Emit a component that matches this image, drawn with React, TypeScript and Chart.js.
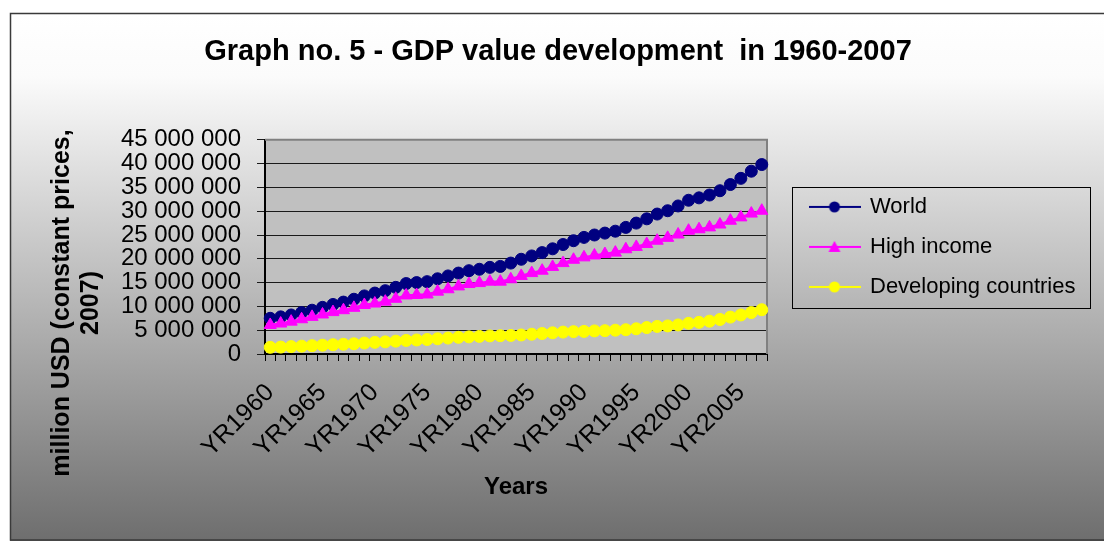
import React, { useEffect, useRef } from 'react';
import Chart from 'chart.js/auto';

const years = [
  'YR1960','YR1961','YR1962','YR1963','YR1964','YR1965','YR1966','YR1967','YR1968','YR1969',
  'YR1970','YR1971','YR1972','YR1973','YR1974','YR1975','YR1976','YR1977','YR1978','YR1979',
  'YR1980','YR1981','YR1982','YR1983','YR1984','YR1985','YR1986','YR1987','YR1988','YR1989',
  'YR1990','YR1991','YR1992','YR1993','YR1994','YR1995','YR1996','YR1997','YR1998','YR1999',
  'YR2000','YR2001','YR2002','YR2003','YR2004','YR2005','YR2006','YR2007',
];

const world = [
  7500000, 7800000, 8200000, 8700000, 9200000, 9800000, 10400000, 10900000, 11500000, 12200000,
  12800000, 13300000, 14000000, 14800000, 15000000, 15200000, 15800000, 16400000, 17000000, 17500000,
  17800000, 18200000, 18400000, 19100000, 19900000, 20600000, 21300000, 22100000, 23000000, 23800000,
  24500000, 25000000, 25400000, 25800000, 26600000, 27500000, 28400000, 29400000, 30100000, 31100000,
  32300000, 32800000, 33400000, 34300000, 35600000, 36900000, 38400000, 39800000,
];

const highIncome = [
  6100000, 6400000, 6800000, 7300000, 7800000, 8300000, 8800000, 9200000, 9700000, 10300000,
  10600000, 11000000, 11600000, 12300000, 12400000, 12500000, 13100000, 13600000, 14200000, 14700000,
  14900000, 15200000, 15200000, 15700000, 16400000, 17000000, 17500000, 18300000, 19100000, 19800000,
  20300000, 20700000, 21000000, 21300000, 22000000, 22500000, 23100000, 23800000, 24400000, 25100000,
  25900000, 26200000, 26600000, 27200000, 28000000, 28700000, 29500000, 30100000,
];

const developing = [
  1400000, 1450000, 1550000, 1650000, 1750000, 1850000, 1950000, 2050000, 2150000, 2300000,
  2450000, 2550000, 2700000, 2850000, 2950000, 3050000, 3200000, 3350000, 3500000, 3600000,
  3700000, 3800000, 3850000, 3900000, 4000000, 4150000, 4300000, 4450000, 4600000, 4700000,
  4750000, 4850000, 4900000, 5000000, 5100000, 5300000, 5550000, 5800000, 5900000, 6100000,
  6450000, 6650000, 6900000, 7250000, 7750000, 8200000, 8700000, 9300000,
];

const seriesNames = ['World', 'High income', 'Developing countries'];
const seriesColors = ['#000080', '#ff00ff', '#ffff00'];
const seriesMarkers = ['circle', 'triangle', 'circle'];

const titleText = 'Graph no. 5 - GDP value development  in 1960-2007';
const xTitle = 'Years';
const yTitleLines = ['million USD (constant prices,', '2007)'];

const FONT = "'Liberation Sans', Arial, Helvetica, sans-serif";

function makeIcon(color: string, marker: string): HTMLCanvasElement {
  const c = document.createElement('canvas');
  c.width = 52;
  c.height = 16;
  const x = c.getContext('2d')!;
  x.strokeStyle = color;
  x.lineWidth = 2;
  x.beginPath();
  x.moveTo(0, 8);
  x.lineTo(52, 8);
  x.stroke();
  x.fillStyle = color;
  x.beginPath();
  if (marker === 'triangle') {
    x.moveTo(26, 2);
    x.lineTo(32, 13);
    x.lineTo(20, 13);
    x.closePath();
  } else {
    x.arc(26, 8, 5.5, 0, Math.PI * 2);
  }
  x.fill();
  return c;
}

function fmt(v: number): string {
  return String(Math.round(v)).replace(/\B(?=(\d{3})+(?!\d))/g, ' ');
}

const decorPlugin = {
  id: 'decor',
  afterLayout(chart: any) {
    const lg = chart.legend;
    const ca = chart.chartArea;
    if (lg) {
      lg.left = ca.right + 25;
      lg.right = lg.left + 300;
      lg.width = 300;
      lg.top = ca.top;
      lg.bottom = ca.bottom;
      lg.height = ca.bottom - ca.top;
    }
  },
  beforeDraw(chart: any) {
    const { ctx, chartArea: ca } = chart;
    ctx.save();
    const g = ctx.createLinearGradient(0, 13, 0, 541);
    g.addColorStop(0, '#ffffff');
    g.addColorStop(0.12, '#fbfbfb');
    g.addColorStop(1, '#6e6e6e');
    ctx.fillStyle = g;
    ctx.fillRect(10, 13, 1110, 528);
    ctx.strokeStyle = '#3a3a3a';
    ctx.lineWidth = 1.5;
    ctx.strokeRect(10.5, 13.5, 1110, 526.5);
    ctx.fillStyle = '#c0c0c0';
    ctx.fillRect(ca.left, ca.top, ca.right - ca.left, ca.bottom - ca.top);
    ctx.restore();
  },
  beforeDatasetsDraw(chart: any) {
    const { ctx, chartArea: ca } = chart;
    ctx.save();
    ctx.strokeStyle = '#808080';
    ctx.lineWidth = 2;
    ctx.beginPath();
    ctx.moveTo(ca.left, ca.top);
    ctx.lineTo(ca.right, ca.top);
    ctx.lineTo(ca.right, ca.bottom);
    ctx.stroke();
    ctx.restore();
  },
  afterDraw(chart: any) {
    const { ctx } = chart;
    ctx.save();
    ctx.fillStyle = '#000';
    ctx.font = `bold 25px ${FONT}`;
    ctx.textAlign = 'center';
    ctx.textBaseline = 'alphabetic';
    const xs = [68.5, 98];
    yTitleLines.forEach((t, i) => {
      ctx.save();
      ctx.translate(xs[i], 303);
      ctx.rotate(-Math.PI / 2);
      ctx.fillText(t, 0, 0);
      ctx.restore();
    });
    const lg = chart.legend;
    if (lg) {
      const pad = 18;
      const colH = lg.columnSizes && lg.columnSizes[0] ? lg.columnSizes[0].height : 120;
      const top = ((lg.top + pad) + (lg.bottom - colH)) / 2;
      ctx.strokeStyle = '#000';
      ctx.lineWidth = 1;
      ctx.strokeRect(Math.round(lg.left) + 0.5, Math.round(top - 9) + 0.5, 298, 121);
    }
    ctx.restore();
  },
};

export default function App() {
  const ref = useRef<HTMLCanvasElement>(null);
  useEffect(() => {
    const icons = seriesColors.map((c, i) => makeIcon(c, seriesMarkers[i]));
    const seriesData = [world, highIncome, developing];
    const chart = new Chart(ref.current!, {
      type: 'line',
      data: {
        labels: years,
        datasets: seriesNames.map((name, i) => ({
          label: name,
          data: seriesData[i],
          borderColor: seriesColors[i],
          backgroundColor: seriesColors[i],
          pointBackgroundColor: seriesColors[i],
          pointBorderColor: seriesColors[i],
          pointStyle: seriesMarkers[i] as any,
          pointRadius: seriesMarkers[i] === 'triangle' ? 7 : 6,
          pointBorderWidth: 1,
          borderWidth: 2.5,
          tension: 0,
          fill: false,
          order: 3 - i,
        })),
      },
      options: {
        responsive: false,
        animation: false,
        devicePixelRatio: 1,
        layout: { padding: { left: 79, right: 67, top: 13, bottom: 0 } },
        plugins: {
          tooltip: { enabled: false },
          title: {
            display: true,
            text: titleText,
            color: '#000',
            font: { family: FONT, size: 29, weight: 'bold' },
            padding: { top: 22, bottom: 70 },
          },
          legend: {
            display: true,
            position: 'right',
            maxWidth: 270,
            labels: {
              usePointStyle: true,
              pointStyleWidth: 49,
              padding: 18,
              color: '#000',
              font: { family: FONT, size: 22 },
              sort: (a: any, b: any) => a.datasetIndex - b.datasetIndex,
              generateLabels: (ch: any) =>
                (Chart as any).defaults.plugins.legend.labels
                  .generateLabels(ch)
                  .map((l: any) => ({ ...l, pointStyle: icons[l.datasetIndex], fontColor: '#000' })),
            },
          },
        },
        scales: {
          x: {
            type: 'category',
            offset: true,
            grid: {
              offset: true,
              drawOnChartArea: false,
              drawTicks: true,
              tickLength: 7,
              color: '#000',
              lineWidth: 1,
            },
            border: { color: '#000', width: 2 },
            ticks: {
              autoSkip: false,
              minRotation: 45,
              maxRotation: 45,
              padding: 17,
              color: '#000',
              font: { family: FONT, size: 25 },
              callback: (_v: any, i: number) => (i % 5 === 0 ? years[i] : ''),
            },
            title: {
              display: true,
              text: xTitle,
              color: '#000',
              font: { family: FONT, size: 24, weight: 'bold' },
              padding: { top: 0, bottom: 39 },
            },
            afterFit: (s: any) => {
              s.height = 187;
            },
          },
          y: {
            min: 0,
            max: 45000000,
            grid: { color: '#1a1a1a', lineWidth: 1, tickLength: 8, drawTicks: true },
            border: { color: '#000', width: 2 },
            ticks: {
              stepSize: 5000000,
              autoSkip: false,
              padding: 16,
              color: '#000',
              font: { family: FONT, size: 24 },
              callback: (v: any) => fmt(Number(v)),
            },
            afterFit: (s: any) => {
              s.width = 186;
            },
          },
        },
      },
      plugins: [decorPlugin],
    } as any);
    return () => chart.destroy();
  }, []);
  return (
    <div
      style={{
        position: 'fixed',
        left: 0,
        top: 0,
        width: 1104,
        height: 541,
        overflow: 'hidden',
        background: '#fff',
      }}
    >
      <canvas
        ref={ref}
        width={1104}
        height={541}
        style={{ display: 'block', width: '1104px', height: '541px' }}
      />
    </div>
  );
}
